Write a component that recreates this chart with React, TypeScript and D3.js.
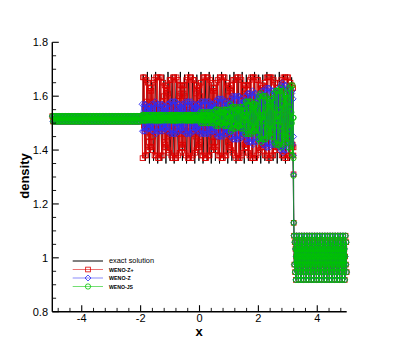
import React from 'react';
import * as d3 from 'd3';

// ---------- data (density vs x) ----------
// left constant state, sampled every 0.025 from x = -5
const FLAT_X0 = -5;
const FLAT_DX = 0.025;
const flatDensity = [
  1.526, 1.506, 1.526, 1.506, 1.526, 1.506, 1.526, 1.506, 1.526, 1.506, 1.526, 1.506, 1.526, 1.506, 1.526, 1.506,
  1.526, 1.506, 1.526, 1.506, 1.526, 1.506, 1.526, 1.506, 1.526, 1.506, 1.526, 1.506, 1.526, 1.506, 1.526, 1.506,
  1.526, 1.506, 1.526, 1.506, 1.526, 1.506, 1.526, 1.506, 1.526, 1.506, 1.526, 1.506, 1.526, 1.506, 1.526, 1.506,
  1.526, 1.506, 1.526, 1.506, 1.526, 1.506, 1.526, 1.506, 1.526, 1.506, 1.526, 1.506, 1.526, 1.506, 1.526, 1.506,
  1.526, 1.506, 1.526, 1.506, 1.526, 1.506, 1.526, 1.506, 1.526, 1.506, 1.526, 1.506, 1.526, 1.506, 1.526, 1.506,
  1.526, 1.506, 1.526, 1.506, 1.526, 1.506, 1.526, 1.506, 1.526, 1.506, 1.526, 1.506, 1.526, 1.506, 1.526, 1.506,
  1.526, 1.506, 1.526, 1.506, 1.526, 1.506, 1.526, 1.506, 1.526, 1.506, 1.526, 1.506, 1.526, 1.506, 1.526, 1.506,
  1.526, 1.506, 1.526, 1.506, 1.526, 1.506, 1.526, 1.506, 1.526,
];

// oscillatory post-shock region: cell values every 0.03 from x = -1.95,
// and the in-between samples (offset by 0.015)
const OSC_X0 = -1.95;
const OSC_DX = 0.03;
const wenoZPlusOsc = [
  1.52, 1.67, 1.49, 1.38, 1.57, 1.66, 1.45, 1.40, 1.62, 1.63, 1.41, 1.43, 1.65, 1.58, 1.38, 1.48, 1.67, 1.53, 1.37, 1.53,
  1.67, 1.48, 1.38, 1.58, 1.65, 1.43, 1.41, 1.63, 1.62, 1.40, 1.45, 1.66, 1.57, 1.38, 1.49, 1.67, 1.52, 1.37, 1.55, 1.67,
  1.47, 1.38, 1.60, 1.64, 1.42, 1.41, 1.64, 1.61, 1.39, 1.46, 1.66, 1.56, 1.37, 1.51, 1.67, 1.51, 1.37, 1.56, 1.66, 1.46,
  1.39, 1.61, 1.64, 1.41, 1.42, 1.64, 1.60, 1.38, 1.47, 1.67, 1.55, 1.37,
  1.52, 1.67, 1.49, 1.38, 1.57, 1.66, 1.45, 1.40, 1.62, 1.63, 1.41, 1.43, 1.65, 1.58, 1.38, 1.48, 1.67, 1.53, 1.37, 1.53,
  1.67, 1.48, 1.38, 1.58, 1.65, 1.43, 1.41, 1.63, 1.62, 1.40, 1.45, 1.66, 1.57, 1.38, 1.49, 1.67, 1.52, 1.37, 1.55, 1.67,
  1.47, 1.38, 1.60, 1.64, 1.42, 1.41, 1.64, 1.61, 1.39, 1.46, 1.66, 1.56, 1.37, 1.51, 1.67, 1.51, 1.37, 1.56, 1.66, 1.46,
  1.39, 1.61, 1.64, 1.41, 1.42, 1.64, 1.60, 1.38, 1.47, 1.67, 1.55, 1.37,
  1.52, 1.67, 1.49, 1.38, 1.57, 1.66, 1.45, 1.40, 1.62, 1.63, 1.41, 1.43, 1.65, 1.58, 1.38, 1.48, 1.67, 1.53, 1.37, 1.53,
  1.67, 1.48, 1.38, 1.58, 1.65, 1.43, 1.41, 1.63,
];
const wenoZPlusOscMid = [
  1.37, 1.53, 1.67, 1.48, 1.38, 1.58, 1.65, 1.43, 1.41, 1.63, 1.62, 1.40, 1.45, 1.66, 1.57, 1.38, 1.49, 1.67, 1.52, 1.37,
  1.55, 1.67, 1.47, 1.38, 1.60, 1.64, 1.42, 1.41, 1.64, 1.61, 1.39, 1.46, 1.66, 1.56, 1.37, 1.51, 1.67, 1.51, 1.37, 1.56,
  1.66, 1.46, 1.39, 1.61, 1.64, 1.41, 1.42, 1.64, 1.60, 1.38, 1.47, 1.67, 1.55, 1.37,
  1.52, 1.67, 1.49, 1.38, 1.57, 1.66, 1.45, 1.40, 1.62, 1.63, 1.41, 1.43, 1.65, 1.58, 1.38, 1.48, 1.67, 1.53,
  1.37, 1.53, 1.67, 1.48, 1.38, 1.58, 1.65, 1.43, 1.41, 1.63, 1.62, 1.40, 1.45, 1.66, 1.57, 1.38, 1.49, 1.67, 1.52, 1.37,
  1.55, 1.67, 1.47, 1.38, 1.60, 1.64, 1.42, 1.41, 1.64, 1.61, 1.39, 1.46, 1.66, 1.56, 1.37, 1.51, 1.67, 1.51, 1.37, 1.56,
  1.66, 1.46, 1.39, 1.61, 1.64, 1.41, 1.42, 1.64, 1.60, 1.38, 1.47, 1.67, 1.55, 1.37,
  1.52, 1.67, 1.49, 1.38, 1.57, 1.66, 1.45, 1.40, 1.62, 1.63, 1.41, 1.43, 1.65, 1.58, 1.38, 1.48, 1.67, 1.53,
  1.37, 1.53, 1.67, 1.48, 1.38, 1.58, 1.65, 1.43, 1.41, 1.63, 1.62, 1.40, 1.45, 1.66, 1.57, 1.38, 1.49, 1.67, 1.52, 1.37,
  1.55, 1.67, 1.47, 1.38, 1.60, 1.64, 1.42, 1.41,
];
const wenoZOsc = [
  1.57, 1.51, 1.47, 1.54, 1.57, 1.49, 1.48, 1.56, 1.56, 1.48, 1.49, 1.57, 1.54, 1.47, 1.51, 1.58, 1.52, 1.47, 1.53, 1.57,
  1.50, 1.47, 1.55, 1.57, 1.49, 1.48, 1.56, 1.55, 1.47, 1.50, 1.57, 1.53,
  1.46, 1.52, 1.58, 1.52, 1.46, 1.54, 1.58, 1.50, 1.47, 1.55, 1.57, 1.48, 1.48, 1.57, 1.55, 1.47, 1.50, 1.58, 1.53, 1.46,
  1.52, 1.58, 1.51, 1.46, 1.54, 1.57, 1.49, 1.47, 1.56, 1.56, 1.47, 1.49, 1.57,
  1.55, 1.46, 1.50, 1.58, 1.53, 1.46, 1.53, 1.58, 1.50, 1.46, 1.55, 1.58, 1.48, 1.47, 1.57, 1.56, 1.47,
  1.49, 1.58, 1.54, 1.45, 1.51, 1.59, 1.52, 1.45, 1.53, 1.59, 1.50, 1.46, 1.56, 1.58, 1.48, 1.47, 1.57,
  1.57, 1.45, 1.49, 1.60, 1.54, 1.44, 1.51, 1.60, 1.51, 1.44, 1.54, 1.60, 1.49, 1.45, 1.57, 1.58, 1.46,
  1.46, 1.60, 1.57, 1.43, 1.49, 1.61, 1.54, 1.43,
  1.52, 1.62, 1.50, 1.43, 1.55, 1.61, 1.47, 1.44,
  1.59, 1.60, 1.44, 1.46, 1.62, 1.57, 1.42, 1.49, 1.63, 1.53, 1.41, 1.53, 1.63, 1.49, 1.42, 1.57, 1.62,
  1.45, 1.42, 1.61, 1.60, 1.42, 1.46, 1.63, 1.56, 1.40, 1.50, 1.65, 1.52, 1.40, 1.54, 1.64, 1.48, 1.41, 1.58, 1.62, 1.44,
  1.43, 1.62, 1.59,
];
const wenoZOscMid = [
  1.47, 1.53, 1.57, 1.50, 1.47, 1.55, 1.56, 1.48, 1.48, 1.56, 1.55, 1.47, 1.50, 1.57, 1.53, 1.46, 1.52, 1.57, 1.51, 1.47,
  1.54, 1.57, 1.49, 1.47, 1.55, 1.56, 1.48, 1.49, 1.57, 1.54, 1.47, 1.51,
  1.58, 1.52, 1.46, 1.52, 1.58, 1.50, 1.46, 1.54, 1.57, 1.49, 1.47, 1.56, 1.56, 1.47, 1.49, 1.57, 1.54, 1.46, 1.51, 1.58,
  1.52, 1.46, 1.53, 1.58, 1.50, 1.47, 1.55, 1.57, 1.48, 1.48, 1.57, 1.55, 1.47,
  1.49, 1.58, 1.54, 1.46, 1.51, 1.58, 1.51, 1.46, 1.54, 1.58, 1.49, 1.46, 1.56, 1.57, 1.47, 1.48, 1.57,
  1.55, 1.46, 1.50, 1.59, 1.53, 1.45, 1.52, 1.59, 1.51, 1.45, 1.54, 1.58, 1.48, 1.46, 1.56, 1.57, 1.47,
  1.47, 1.59, 1.55, 1.44, 1.50, 1.60, 1.53, 1.44, 1.53, 1.60, 1.50, 1.44, 1.55, 1.59, 1.47, 1.46, 1.58,
  1.58, 1.44, 1.47, 1.61, 1.55, 1.43, 1.50, 1.61,
  1.52, 1.42, 1.54, 1.61, 1.49, 1.43, 1.57, 1.60,
  1.45, 1.44, 1.60, 1.58, 1.42, 1.47, 1.62, 1.55, 1.41, 1.51, 1.63, 1.51, 1.41, 1.55, 1.62, 1.47, 1.42,
  1.59, 1.62, 1.43, 1.44, 1.62, 1.58, 1.41, 1.48, 1.64, 1.54, 1.39, 1.52, 1.64, 1.50, 1.40, 1.56, 1.63, 1.46, 1.42, 1.60,
  1.61, 1.42, 1.45,
];
const wenoJSOsc = [
  1.51, 1.53, 1.53, 1.51, 1.51, 1.53, 1.52, 1.51, 1.52, 1.53, 1.52, 1.51, 1.52, 1.53, 1.51, 1.51, 1.53, 1.53, 1.51, 1.51,
  1.53, 1.53, 1.51, 1.52, 1.53, 1.52, 1.51,
  1.52, 1.53, 1.52, 1.51, 1.52, 1.53, 1.51, 1.51, 1.53, 1.53, 1.51, 1.51, 1.53, 1.53, 1.51, 1.52, 1.53, 1.52, 1.51, 1.52,
  1.53, 1.52, 1.51, 1.53, 1.53, 1.51, 1.51, 1.53, 1.53, 1.51, 1.51, 1.53, 1.52, 1.51, 1.52, 1.53, 1.52, 1.51,
  1.52, 1.54, 1.51, 1.50, 1.53, 1.54, 1.51, 1.51, 1.54, 1.53, 1.50, 1.51, 1.54, 1.53, 1.50, 1.52, 1.54,
  1.52, 1.49, 1.53, 1.55, 1.51, 1.49, 1.54, 1.54, 1.50, 1.50, 1.55, 1.54, 1.49, 1.51, 1.55, 1.53, 1.49,
  1.52, 1.57, 1.51, 1.48, 1.54, 1.56, 1.50, 1.48, 1.55, 1.55, 1.49, 1.49, 1.56, 1.54, 1.48, 1.51, 1.56,
  1.53, 1.46, 1.53, 1.58, 1.50, 1.46, 1.55, 1.58, 1.48, 1.47, 1.57, 1.56, 1.47, 1.49, 1.58, 1.54,
  1.44, 1.51, 1.61, 1.52, 1.44, 1.53, 1.60, 1.49, 1.44, 1.56, 1.59, 1.47, 1.46, 1.59, 1.57, 1.45, 1.48,
  1.61, 1.55, 1.42, 1.51, 1.62, 1.51, 1.42, 1.55, 1.63, 1.47, 1.42, 1.59, 1.61, 1.44, 1.45, 1.61,
  1.58, 1.41, 1.48, 1.64, 1.54, 1.38, 1.52,
];
const wenoJSOscMid = [
  1.53, 1.51, 1.51, 1.53, 1.53, 1.51, 1.52, 1.53, 1.52, 1.51, 1.52, 1.53, 1.52, 1.51, 1.53, 1.53, 1.51, 1.51, 1.53, 1.53,
  1.51, 1.51, 1.53, 1.52, 1.51, 1.52, 1.53,
  1.52, 1.51, 1.52, 1.53, 1.52, 1.51, 1.53, 1.53, 1.51, 1.51, 1.53, 1.53, 1.51, 1.51, 1.53, 1.52, 1.51, 1.52, 1.53, 1.52,
  1.51, 1.52, 1.53, 1.51, 1.51, 1.53, 1.53, 1.51, 1.51, 1.53, 1.53, 1.51, 1.52, 1.53, 1.52, 1.51, 1.52, 1.53,
  1.52, 1.50, 1.53, 1.54, 1.51, 1.50, 1.53, 1.53, 1.50, 1.51, 1.54, 1.53, 1.50, 1.51, 1.54, 1.52, 1.50,
  1.52, 1.55, 1.51, 1.49, 1.53, 1.55, 1.50, 1.50, 1.54, 1.54, 1.49, 1.50, 1.55, 1.53, 1.49, 1.51, 1.55,
  1.52, 1.47, 1.53, 1.56, 1.50, 1.48, 1.54, 1.56, 1.49, 1.49, 1.55, 1.55, 1.48, 1.50, 1.56, 1.53, 1.48,
  1.51, 1.58, 1.51, 1.46, 1.54, 1.58, 1.49, 1.46, 1.56, 1.57, 1.47, 1.48, 1.57, 1.55, 1.46, 1.50,
  1.60, 1.53, 1.43, 1.52, 1.60, 1.51, 1.44, 1.55, 1.60, 1.48, 1.45, 1.57, 1.58, 1.45, 1.47, 1.59, 1.56,
  1.43, 1.49, 1.62, 1.53, 1.42, 1.53, 1.62, 1.49, 1.41, 1.57, 1.62, 1.45, 1.43, 1.60, 1.59, 1.43,
  1.46, 1.63, 1.56, 1.40, 1.50, 1.64, 1.52,
];

// points on the shock
const shockX = [3.19, 3.195, 3.2];
const wenoZPlusShock = [1.38, 1.31, 1.13];
const wenoZShock = [1.38, 1.31, 1.13];
const wenoJSShock = [1.37, 1.305, 1.13];

// pre-shock sinusoidal region, sampled every 0.0125 from x = 3.21
const PRE_X0 = 3.21;
const PRE_DX = 0.0125;
const preShockDensity = [
  1.082, 0.975, 1.058, 0.947, 1.033, 0.918, 1.005, 1.082, 0.975, 1.058, 0.947, 1.033, 0.918, 1.005,
  1.082, 0.975, 1.058, 0.947, 1.033, 0.918, 1.005, 1.082, 0.975, 1.058, 0.947, 1.033, 0.918, 1.005,
  1.082, 0.975, 1.058, 0.947, 1.033, 0.918, 1.005, 1.082, 0.975, 1.058, 0.947, 1.033, 0.918, 1.005,
  1.082, 0.975, 1.058, 0.947, 1.033, 0.918, 1.005, 1.082, 0.975, 1.058, 0.947, 1.033, 0.918, 1.005,
  1.082, 0.975, 1.058, 0.947, 1.033, 0.918, 1.005, 1.082, 0.975, 1.058, 0.947, 1.033, 0.918, 1.005,
  1.082, 0.975, 1.058, 0.947, 1.033, 0.918, 1.005, 1.082, 0.975, 1.058, 0.947, 1.033, 0.918, 1.005,
  1.082, 0.975, 1.058, 0.947, 1.033, 0.918, 1.005, 1.082, 0.975, 1.058, 0.947, 1.033, 0.918, 1.005,
  1.082, 0.975, 1.058, 0.947, 1.033, 0.918, 1.005, 1.082, 0.975, 1.058, 0.947, 1.033, 0.918, 1.005,
  1.082, 0.975, 1.058, 0.947, 1.033, 0.918, 1.005, 1.082, 0.975, 1.058, 0.947, 1.033, 0.918, 1.005,
  1.082, 0.975, 1.058, 0.947, 1.033, 0.918, 1.005, 1.082, 0.975, 1.058, 0.947, 1.033, 0.918, 1.005,
  1.082, 0.975, 1.058, 0.947,
];

// exact solution
const exactLeftX = [-5, -1.93];
const exactLeftDensity = [1.516, 1.516];
const EXACT_OSC_X0 = -1.91;
const EXACT_OSC_DX = 0.07;
const exactOsc = [
  1.68, 1.36, 1.69, 1.35, 1.68, 1.36, 1.69, 1.35, 1.68, 1.36,
  1.68, 1.35, 1.69, 1.36, 1.68, 1.35, 1.68, 1.36, 1.69, 1.36,
  1.68, 1.35, 1.69, 1.36, 1.68, 1.35, 1.68, 1.36, 1.69, 1.35,
  1.68, 1.36, 1.69, 1.35, 1.68, 1.36, 1.68, 1.35, 1.69, 1.36,
  1.68, 1.35, 1.68, 1.36, 1.69, 1.35, 1.68, 1.36, 1.69, 1.35,
  1.68, 1.36, 1.68, 1.35, 1.69, 1.36, 1.68, 1.35, 1.68, 1.36,
  1.69, 1.35, 1.68, 1.36, 1.68, 1.35, 1.69, 1.36, 1.68, 1.35,
  1.68, 1.36, 1.67,
];

// axes
const xMajorTicks = [-4, -2, 0, 2, 4];
const xTickLabels = ['-4', '-2', '0', '2', '4'];
const yMajorTicks = [0.8, 1, 1.2, 1.4, 1.6, 1.8];
const yTickLabels = ['0.8', '1', '1.2', '1.4', '1.6', '1.8'];
const legendLabels = ['exact solution', 'WENO-Z+', 'WENO-Z', 'WENO-JS'];

// ---------- helpers ----------
type Pt = [number, number];
const sampled = (x0: number, dx: number, vals: number[]): Pt[] =>
  vals.map((v, i) => [x0 + dx * i, v]);
const paired = (xs: number[], vals: number[]): Pt[] => vals.map((v, i) => [xs[i], v]);
const interleaved = (a: Pt[], b: Pt[]): Pt[] => a.flatMap((p, i) => (b[i] ? [p, b[i]] : [p]));

const schemePoints = (osc: number[], oscMid: number[], shock: number[]): Pt[] => [
  ...sampled(FLAT_X0, FLAT_DX, flatDensity),
  ...interleaved(sampled(OSC_X0, OSC_DX, osc), sampled(OSC_X0 + OSC_DX / 2, OSC_DX, oscMid)),
  ...paired(shockX, shock),
  ...sampled(PRE_X0, PRE_DX, preShockDensity),
];

const exactPoints: Pt[] = [
  ...paired(exactLeftX, exactLeftDensity),
  ...sampled(EXACT_OSC_X0, EXACT_OSC_DX, exactOsc),
  ...sampled(PRE_X0, PRE_DX, preShockDensity),
];

const RED = '#dc0000';
const BLUE = '#2c2cf5';
const GREEN = '#00c400';

const series = [
  { name: 'WENO-Z+', pts: schemePoints(wenoZPlusOsc, wenoZPlusOscMid, wenoZPlusShock), color: RED, marker: 'square' },
  { name: 'WENO-Z', pts: schemePoints(wenoZOsc, wenoZOscMid, wenoZShock), color: BLUE, marker: 'diamond' },
  { name: 'WENO-JS', pts: schemePoints(wenoJSOsc, wenoJSOscMid, wenoJSShock), color: GREEN, marker: 'circle' },
];

function Marker({ kind, cx, cy, color, sw = 0.8 }: { kind: string; cx: number; cy: number; color: string; sw?: number }) {
  if (kind === 'square') {
    const h = 2.35;
    return <rect x={cx - h} y={cy - h} width={2 * h} height={2 * h} fill="none" stroke={color} strokeWidth={sw} />;
  }
  if (kind === 'diamond') {
    const h = 3;
    return <path d={`M${cx},${cy - h}L${cx + h},${cy}L${cx},${cy + h}L${cx - h},${cy}Z`} fill="none" stroke={color} strokeWidth={sw} />;
  }
  return <circle cx={cx} cy={cy} r={2.65} fill="none" stroke={color} strokeWidth={sw} />;
}

export default function App() {
  const W = 395, H = 351;
  const x = d3.scaleLinear().domain([-5, 5]).range([52.3, 346.7]);
  const y = d3.scaleLinear().domain([0.8, 1.8]).range([311.7, 42.3]);
  const line = d3.line<Pt>().x((d) => x(d[0])).y((d) => y(d[1]));

  const xMinor = d3.range(-4.8, 4.81, 0.4).filter((v) => Math.abs(v / 2 - Math.round(v / 2)) > 0.01);
  const yMinor = d3.range(0.85, 1.8, 0.05).filter((v) => Math.abs(v / 0.2 - Math.round(v / 0.2)) > 0.01);

  const x0 = x(-5), x1 = x(5), yb = y(0.8), yt = y(1.8);
  const font = 'Arial, "Liberation Sans", Helvetica, sans-serif';

  const legX0 = 72.7, legX1 = 103, legMarkX = 88, legTextX = 109;
  const legY = [261, 269.5, 278, 286.5];
  const legColors = ['#000', RED, BLUE, GREEN];
  const legMarkers = ['', 'square', 'diamond', 'circle'];
  const legLens = [45, 24.7, 21.7, 24];

  return (
    <svg width={W} height={H} style={{ position: 'absolute', left: 0, top: 0, background: '#fff' }}>
      {/* exact solution */}
      <path d={line(exactPoints) || ''} fill="none" stroke="#000" strokeWidth={0.9} />
      {/* numerical schemes */}
      {series.map((s) => (
        <g key={s.name}>
          <path d={line(s.pts) || ''} fill="none" stroke={s.color} strokeWidth={0.7} />
          {s.pts.map((p, i) => (
            <Marker key={i} kind={s.marker} cx={x(p[0])} cy={y(p[1])} color={s.color} sw={0.9} />
          ))}
        </g>
      ))}

      {/* axes */}
      <g stroke="#000" strokeWidth={1.1}>
        <line x1={x0} y1={yb} x2={x1} y2={yb} strokeWidth={1.4} />
        <line x1={x0} y1={yb} x2={x0} y2={yt} strokeWidth={1.4} />
        {xMajorTicks.map((v) => (
          <line key={'xm' + v} x1={x(v)} x2={x(v)} y1={yb} y2={yb - 6.5} />
        ))}
        {xMinor.map((v, i) => (
          <line key={'xn' + i} x1={x(v)} x2={x(v)} y1={yb} y2={yb - 3.8} strokeWidth={0.9} />
        ))}
        {yMajorTicks.map((v) => (
          <line key={'ym' + v} x1={x0} x2={x0 + 6.5} y1={y(v)} y2={y(v)} />
        ))}
        {yMinor.map((v, i) => (
          <line key={'yn' + i} x1={x0} x2={x0 + 3.8} y1={y(v)} y2={y(v)} strokeWidth={0.9} />
        ))}
      </g>
      <g fontFamily={font} fontSize={11} fill="#000">
        {xMajorTicks.map((v, i) => (
          <text key={'xl' + v} x={x(v)} y={322} textAnchor="middle">{xTickLabels[i]}</text>
        ))}
        {yMajorTicks.map((v, i) => (
          <text key={'yl' + v} x={48} y={y(v) + 4} textAnchor="end">{yTickLabels[i]}</text>
        ))}
      </g>
      <text x={199} y={336} textAnchor="middle" fontFamily={font} fontWeight="bold" fontSize={13}>x</text>
      <text transform="translate(29,176) rotate(-90)" textAnchor="middle" fontFamily={font} fontWeight="bold" fontSize={13}>density</text>

      {/* legend */}
      {legendLabels.map((lab, i) => (
        <g key={lab}>
          <line x1={legX0} x2={legX1} y1={legY[i]} y2={legY[i]} stroke={legColors[i]} strokeWidth={1} strokeOpacity={i === 0 ? 1 : 0.55} />
          {legMarkers[i] && <Marker kind={legMarkers[i]} cx={legMarkX} cy={legY[i]} color={legColors[i]} sw={0.8} />}
          <text x={legTextX} y={legY[i] + 2.2} fontFamily={font} fontWeight={i === 0 ? 'normal' : 'bold'} fontSize={i === 0 ? 6.5 : 6}
            textLength={legLens[i]} lengthAdjust="spacingAndGlyphs">{lab}</text>
        </g>
      ))}
    </svg>
  );
}
